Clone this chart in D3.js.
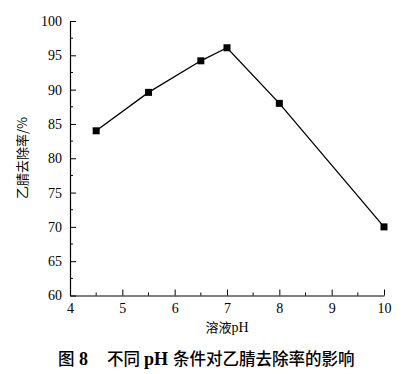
<!DOCTYPE html>
<html lang="zh">
<head>
<meta charset="UTF-8" />
<title>pH vs removal</title>
<script src="https://d3js.org/d3.v7.min.js"></script>
<style>
  body { margin: 0; background: #fff; }
</style>
</head>
<body>
<script>
const WIDTH = 403, HEIGHT = 374;

// data
const phValues = [4.5, 5.5, 6.5, 7, 8, 10];
const removal = [84.0, 89.6, 94.2, 96.1, 88.0, 70.0];
const xTicks = [4, 5, 6, 7, 8, 9, 10];
const yTicks = [60, 65, 70, 75, 80, 85, 90, 95, 100];

const data = phValues.map((p, i) => ({ ph: p, r: removal[i] }));

const svg = d3.select("body").append("svg")
    .attr("width", WIDTH)
    .attr("height", HEIGHT);

const x = d3.scaleLinear().domain([4, 10]).range([70, 384]);
const y = d3.scaleLinear().domain([60, 100]).range([295.5, 21]);

const serif = "'Liberation Serif', 'Times New Roman', serif";

// y axis (ticks pointing inward)
svg.append("g")
    .attr("transform", "translate(70,0)")
    .call(d3.axisLeft(y).tickValues(yTicks).tickFormat(d3.format("d")).tickSize(-6).tickPadding(8).tickSizeOuter(0))
    .attr("font-family", serif)
    .attr("font-size", 14)
    .call(g => g.select(".domain").attr("stroke", "#000").attr("stroke-width", 1.2))
    .call(g => g.selectAll(".tick line").attr("stroke", "#000"));
// minor y ticks
svg.append("g")
    .selectAll("line")
    .data(d3.range(62.5, 100, 5))
    .join("line")
    .attr("x1", 70).attr("x2", 73)
    .attr("y1", d => y(d)).attr("y2", d => y(d))
    .attr("stroke", "#000");

// x axis
svg.append("g")
    .attr("transform", "translate(0,295.5)")
    .call(d3.axisBottom(x).tickValues(xTicks).tickFormat(d3.format("d")).tickSize(-6).tickPadding(8).tickSizeOuter(0))
    .attr("font-family", serif)
    .attr("font-size", 14)
    .call(g => g.select(".domain").attr("stroke", "#000").attr("stroke-width", 1.2))
    .call(g => g.selectAll(".tick line").attr("stroke", "#000"));
svg.append("g")
    .selectAll("line")
    .data(d3.range(4.5, 10, 1))
    .join("line")
    .attr("x1", d => x(d)).attr("x2", d => x(d))
    .attr("y1", 295.5).attr("y2", 292.5)
    .attr("stroke", "#000");

// line + markers
const line = d3.line().x(d => x(d.ph)).y(d => y(d.r));
svg.append("path")
    .datum(data)
    .attr("fill", "none")
    .attr("stroke", "#000")
    .attr("stroke-width", 1.3)
    .attr("d", line);
svg.selectAll(".dot")
    .data(data)
    .join("rect")
    .attr("class", "dot")
    .attr("x", d => x(d.ph) - 3.5)
    .attr("y", d => y(d.r) - 3.5)
    .attr("width", 7)
    .attr("height", 7)
    .attr("fill", "#000");

// axis titles
svg.append("text")
    .attr("transform", "translate(27,158) rotate(-90)")
    .attr("text-anchor", "middle")
    .attr("font-family", "'Noto Sans CJK SC', sans-serif")
    .attr("font-size", 13)
    .text("乙腈去除率/%");

svg.append("text")
    .attr("x", 227)
    .attr("y", 332)
    .attr("text-anchor", "middle")
    .attr("font-family", "'Noto Sans CJK SC', sans-serif")
    .attr("font-size", 13)
    .call(t => {
        t.append("tspan").text("溶液");
        t.append("tspan").attr("font-family", serif).attr("font-size", 14).text("pH");
    });

// caption
const cap = svg.append("text")
    .attr("x", 58)
    .attr("y", 365)
    .attr("font-family", "'Noto Sans CJK SC', sans-serif")
    .attr("font-size", 16.5)
    .attr("font-weight", 500);
cap.append("tspan").text("图");
cap.append("tspan").attr("x", 79).attr("font-family", serif).attr("font-weight", "bold").attr("font-size", 18).text("8");
cap.append("tspan").attr("x", 107).text("不同");
cap.append("tspan").attr("x", 144).attr("font-family", serif).attr("font-weight", "bold").attr("font-size", 18).text("pH");
cap.append("tspan").attr("x", 173).text("条件对乙腈去除率的影响");
</script>
</body>
</html>
